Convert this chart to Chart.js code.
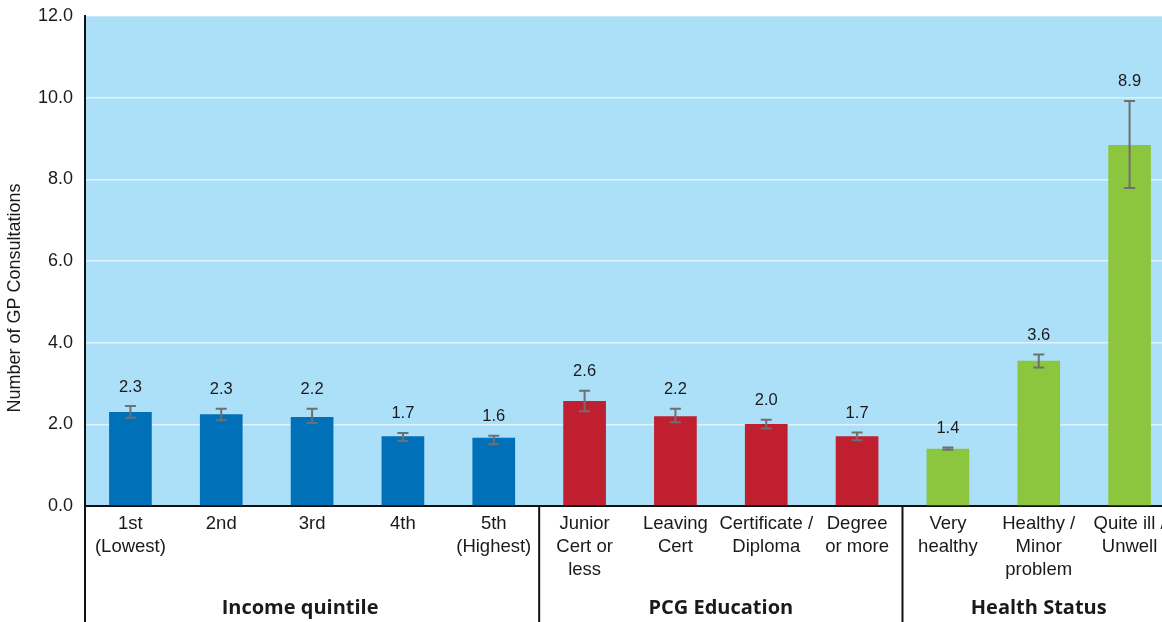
<!DOCTYPE html>
<html>
<head>
<meta charset="utf-8">
<script src="https://cdn.jsdelivr.net/npm/chart.js@4/dist/chart.umd.min.js"></script>
<style>
  html, body { margin: 0; padding: 0; background: #fff; overflow: hidden; }
  #wrap { width: 1175px; height: 622px; position: relative; }
</style>
</head>
<body>
<div id="wrap"><canvas id="myChart"></canvas></div>
<script>
// categories (multi-line tick labels)
const categories = [
    ['1st', '(Lowest)'], ['2nd'], ['3rd'], ['4th'], ['5th', '(Highest)'],
    ['Junior', 'Cert or', 'less'], ['Leaving', 'Cert'], ['Certificate /', 'Diploma'], ['Degree', 'or more'],
    ['Very', 'healthy'], ['Healthy /', 'Minor', 'problem'], ['Quite ill /', 'Unwell']
];
const values    = [2.30, 2.25, 2.18, 1.71, 1.67, 2.57, 2.20, 2.01, 1.71, 1.40, 3.56, 8.84];
const errLow    = [2.16, 2.10, 2.03, 1.59, 1.51, 2.32, 2.05, 1.90, 1.61, 1.38, 3.39, 7.79];
const errHigh   = [2.45, 2.38, 2.38, 1.79, 1.72, 2.82, 2.38, 2.11, 1.80, 1.43, 3.71, 9.92];
const valueLabels = ['2.3', '2.3', '2.2', '1.7', '1.6', '2.6', '2.2', '2.0', '1.7', '1.4', '3.6', '8.9'];
const groupNames = ['Income quintile', 'PCG Education', 'Health Status'];
const groupSizes = [5, 4, 3];
const groupColors = ['#0070b8', '#c01f2f', '#8cc63f'];
const yTicks = [0, 2, 4, 6, 8, 10, 12];
const yTitle = 'Number of GP Consultations';

const barColors = [];
groupSizes.forEach((n, g) => { for (let i = 0; i < n; i++) barColors.push(groupColors[g]); });

const TEXT = '#1a1a1a';
const SANS = '"Liberation Sans", Arial, sans-serif';

const extras = {
    id: 'extras',
    beforeDraw(chart) {
        const { ctx, chartArea: a } = chart;
        ctx.save();
        ctx.fillStyle = '#ace0f9';
        ctx.fillRect(a.left, a.top, a.right - a.left, a.bottom - a.top);
        ctx.restore();
    },
    afterDatasetsDraw(chart) {
        const { ctx, scales: { x, y } } = chart;
        ctx.save();
        ctx.strokeStyle = '#6e6f71';
        ctx.lineWidth = 2;
        values.forEach((v, i) => {
            const px = x.getPixelForValue(i);
            const top = y.getPixelForValue(errHigh[i]);
            const bot = y.getPixelForValue(errLow[i]);
            ctx.beginPath();
            ctx.moveTo(px, top); ctx.lineTo(px, bot);
            ctx.moveTo(px - 5.5, top); ctx.lineTo(px + 5.5, top);
            ctx.moveTo(px - 5.5, bot); ctx.lineTo(px + 5.5, bot);
            ctx.stroke();
            ctx.fillStyle = TEXT;
            ctx.font = '16.5px ' + SANS;
            ctx.textAlign = 'center';
            ctx.textBaseline = 'middle';
            ctx.fillText(valueLabels[i], px, top - 19);
        });
        ctx.restore();
    },
    afterDraw(chart) {
        const { ctx, chartArea: a, scales: { x } } = chart;
        const H = chart.height;
        const step = x.getPixelForValue(1) - x.getPixelForValue(0);
        ctx.save();
        // y axis title
        ctx.save();
        ctx.translate(15, 298);
        ctx.rotate(-Math.PI / 2);
        ctx.fillStyle = TEXT;
        ctx.font = '18px ' + SANS;
        ctx.textAlign = 'center';
        ctx.textBaseline = 'middle';
        ctx.fillText(yTitle, 0, 0);
        ctx.restore();

        ctx.strokeStyle = '#111';
        ctx.lineWidth = 2;
        // y axis continues down through the label area
        ctx.beginPath();
        ctx.moveTo(a.left, a.bottom); ctx.lineTo(a.left, H);
        ctx.stroke();
        let start = 0;
        groupSizes.forEach((n, g) => {
            const x0 = x.getPixelForValue(start) - step / 2;
            const x1 = x.getPixelForValue(start + n - 1) + step / 2;
            if (g > 0) {
                ctx.beginPath();
                ctx.moveTo(x0, a.bottom); ctx.lineTo(x0, H);
                ctx.stroke();
            }
            ctx.fillStyle = TEXT;
            ctx.font = 'bold 20px "Open Sans", sans-serif';
            ctx.textAlign = 'center';
            ctx.textBaseline = 'middle';
            const cx = g === 0 ? (x0 + x1) / 2 - 12 : (x0 + x1) / 2;
            ctx.fillText(groupNames[g], cx, 608);
            start += n;
        });
        ctx.restore();
    }
};

const ctx = document.getElementById('myChart').getContext('2d');
new Chart(ctx, {
    type: 'bar',
    data: {
        labels: categories,
        datasets: [{
            data: values,
            backgroundColor: barColors,
            borderWidth: 0,
            barPercentage: 0.47,
            categoryPercentage: 1
        }]
    },
    options: {
        responsive: true,
        maintainAspectRatio: false,
        animation: false,
        layout: { padding: { top: 16, right: 0, bottom: 0, left: 0 } },
        plugins: { legend: { display: false }, tooltip: { enabled: false } },
        scales: {
            x: {
                afterFit(scale) { scale.height = 116; },
                grid: { display: false, drawTicks: false },
                border: { color: '#111', width: 2 },
                ticks: {
                    autoSkip: false, maxRotation: 0, padding: 6,
                    color: TEXT,
                    font: { family: SANS, size: 18.5, lineHeight: 1.25 }
                }
            },
            y: {
                min: 0, max: 12,
                afterFit(scale) { scale.width = 85; scale.paddingTop = 0; scale.paddingBottom = 0; },
                afterBuildTicks(scale) { scale.ticks = yTicks.map(v => ({ value: v })); },
                grid: { color: 'rgba(255,255,255,0.6)', lineWidth: 1.5, drawTicks: false },
                border: { color: '#111', width: 2 },
                ticks: {
                    padding: 12,
                    color: TEXT,
                    font: { family: SANS, size: 18 },
                    callback: v => v.toFixed(1)
                }
            }
        }
    },
    plugins: [extras]
});
</script>
</body>
</html>
